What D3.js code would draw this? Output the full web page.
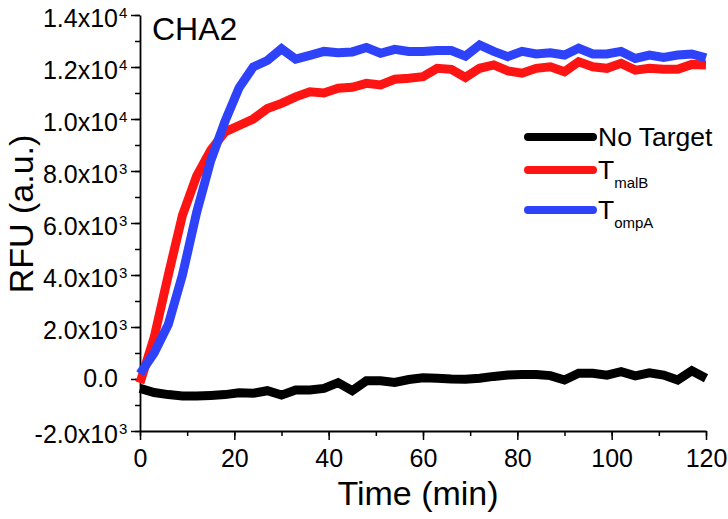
<!DOCTYPE html>
<html><head><meta charset="utf-8">
<script src="https://cdn.jsdelivr.net/npm/d3@7/dist/d3.min.js"></script>
<style>body{margin:0;background:#fff}svg{display:block}text{font-family:"Liberation Sans",Arial,sans-serif}</style>
</head><body>
<script>
const time = [0,3,6,9,12,15,18,21,24,27,30,33,36,39,42,45,48,51,54,57,60,63,66,69,72,75,78,81,84,87,90,93,96,99,102,105,108,111,114,117,120];
const noTarget = [-360,-520,-600,-650,-650,-630,-600,-530,-550,-450,-620,-420,-420,-360,-140,-450,-70,-70,-130,-20,50,30,0,-10,30,100,150,170,170,130,-40,220,220,150,280,120,240,150,-40,320,30];
const tMalB = [-150,1600,4000,6300,7800,8800,9500,9750,10000,10400,10600,10850,11050,11000,11180,11220,11370,11310,11530,11570,11630,11950,11910,11600,11950,12080,11850,11760,11950,12010,11820,12200,12010,11950,12140,11880,11950,11910,11910,12100,12080];
const tOmpA = [200,1000,2100,4000,6400,8400,9900,11200,12000,12250,12700,12300,12450,12600,12550,12580,12750,12530,12680,12600,12600,12630,12630,12420,12850,12600,12400,12600,12500,12550,12460,12720,12500,12500,12600,12330,12460,12370,12460,12500,12350];
const xTicks = [0,20,40,60,80,100,120];
const yTicks = [-2000,0,2000,4000,6000,8000,10000,12000,14000];
const yTickLabels = [["-2.0x10","3"],["0.0",""],["2.0x10","3"],["4.0x10","3"],["6.0x10","3"],["8.0x10","3"],["1.0x10","4"],["1.2x10","4"],["1.4x10","4"]];
const seriesNames = [["No Target",""],["T","malB"],["T","ompA"]];
const seriesColors = ["#000000","#ff1414","#2e42fa"];

const W=728,H=519;
const L=140,R=706,T=15,B=431;
const svg=d3.select("body").append("svg").attr("width",W).attr("height",H);
const x=d3.scaleLinear().domain([0,120]).range([L,R]);
const y=d3.scaleLinear().domain([-2000,14000]).range([B,T]);

// minor ticks
const xMinor=d3.range(0,121,10), yMinor=d3.range(-2000,14001,1000);
svg.append("g").attr("transform",`translate(0,${B})`).call(d3.axisBottom(x).tickValues(xMinor).tickSize(5).tickFormat("")).call(g=>{g.select(".domain").remove();g.selectAll("line").attr("stroke-width",1.5);});
svg.append("g").attr("transform",`translate(${L},0)`).call(d3.axisLeft(y).tickValues(yMinor).tickSize(5).tickFormat("")).call(g=>{g.select(".domain").remove();g.selectAll("line").attr("stroke-width",1.5);});
// major axes
const gx=svg.append("g").attr("transform",`translate(0,${B})`).call(d3.axisBottom(x).tickValues(xTicks).tickSize(9).tickSizeOuter(0).tickPadding(9));
gx.selectAll("line").attr("stroke-width",1.5);
gx.select(".domain").attr("stroke-width",1.8);
gx.selectAll("text").attr("font-size",25).attr("fill","#000").attr("font-family","Liberation Sans, Arial, sans-serif");
const gy=svg.append("g").attr("transform",`translate(${L},0)`).call(d3.axisLeft(y).tickValues(yTicks).tickSize(9).tickSizeOuter(0).tickFormat(""));
gy.selectAll("line").attr("stroke-width",1.5);
gy.select(".domain").attr("stroke-width",1.8);
yTicks.forEach((v,i)=>{
  const [m,s]=yTickLabels[i];
  const yy=y(v);
  svg.append("text").attr("x",L-22).attr("y",s?yy+12:yy+8).attr("text-anchor","end").attr("font-size",25).text(m);
  if(s) svg.append("text").attr("x",L-21).attr("y",yy+3).attr("font-size",15).text(s);
});

// lines
const line=d3.line().x((d,i)=>x(time[i])).y(d=>y(d));
[noTarget,tMalB,tOmpA].forEach((s,i)=>{
  svg.append("path").datum(s).attr("d",line).attr("fill","none").attr("stroke",seriesColors[i]).attr("stroke-width",9).attr("stroke-linejoin","miter");
});

// titles
svg.append("text").attr("x",418).attr("y",505).attr("text-anchor","middle").attr("font-size",34).text("Time (min)");
svg.append("text").attr("transform","translate(33,214) rotate(-90)").attr("text-anchor","middle").attr("font-size",34).text("RFU (a.u.)");
svg.append("text").attr("x",152).attr("y",40).attr("font-size",32).text("CHA2");

// legend
const legY=[137,170,210];
seriesNames.forEach((n,i)=>{
  svg.append("line").attr("x1",528).attr("x2",593).attr("y1",legY[i]).attr("y2",legY[i]).attr("stroke",seriesColors[i]).attr("stroke-width",8).attr("stroke-linecap","round");
  const t=svg.append("text").attr("x",598).attr("y",legY[i]+9).attr("font-size",26.5);
  t.append("tspan").text(n[0]);
  if(n[1]) t.append("tspan").attr("font-size",15).attr("dy",9).text(n[1]);
});
</script>
</body></html>
